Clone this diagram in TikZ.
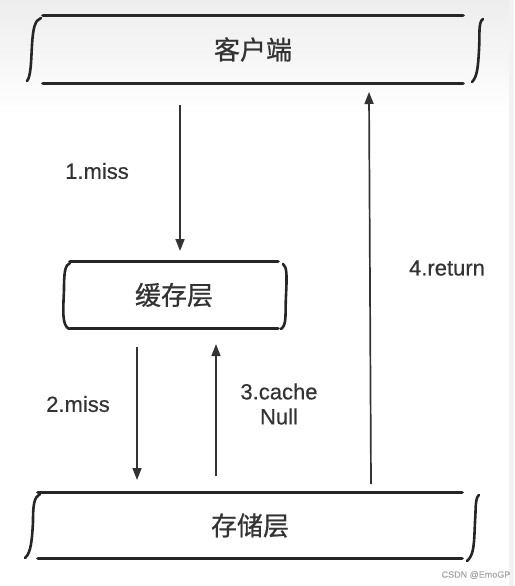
\documentclass[tikz,border=0pt]{standalone}
\usepackage{fontspec}
\setmainfont{Liberation Sans}[UprightFeatures={FakeBold=0.5}]
\newfontfamily\cjk{Noto Sans CJK SC}[UprightFeatures={FakeBold=0.8}]
\usetikzlibrary{arrows.meta}
\tikzset{
  layer/.style={inner sep=0pt, font=\cjk\fontsize{26}{30}\selectfont, text=black!80},
  edge/.style={line width=3.2pt, black!85, line cap=round},
  brace/.style={line width=2.6pt, black!85, line cap=round},
  flow/.style={-{Triangle[length=12pt,width=9pt]}, line width=1.7pt, black!80},
  lbl/.style={font=\fontsize{22}{25}\selectfont, text=black!80, align=center}
}
\begin{document}
\begin{tikzpicture}[x=1pt,y=-1pt]
\useasboundingbox (0,0) rectangle (514,586);
\shade[top color=gray!14, bottom color=white] (0,0) rectangle (514,115);
\fill[gray!10] (509,0) rectangle (514,586);

% layers
\node[layer, minimum width=420pt, minimum height=67pt] (client) at (253,49.5) {客户端};
\node[layer, minimum width=208pt, minimum height=66pt] (cache) at (174,295) {缓存层};
\node[layer, minimum width=424pt, minimum height=65pt] (store) at (250,525.5) {存储层};

\draw[edge] (client.north west) -- (client.north east);
\draw[edge] (client.south west) -- (client.south east);
\draw[edge] (cache.north west) -- (cache.north east);
\draw[edge] (cache.south west) -- (cache.south east);
\draw[edge] (store.north west) -- (store.north east);
\draw[edge] (store.south west) -- (store.south east);

% side brackets
\draw[brace] (41,18) .. controls (35,20) and (33,28) .. (32,45) .. controls (31,62) and (31,76) .. (27,81);
\draw[brace] (483,19) .. controls (478,22) and (480,35) .. (479,50) .. controls (478,68) and (477,77) .. (472,82);
\draw[brace] (70,263) .. controls (65,265) and (64,272) .. (64,290) .. controls (63,312) and (62,325) .. (69,329);
\draw[brace] (283,264) .. controls (287,267) and (287,275) .. (286,295) .. controls (285,315) and (287,325) .. (281,329);
\draw[brace] (40,494) .. controls (34,497) and (33,505) .. (33,522) .. controls (32,540) and (31,553) .. (25,558);
\draw[brace] (479,495) .. controls (475,498) and (476,508) .. (475,522) .. controls (474,545) and (474,555) .. (467,561);

% arrow ends
\coordinate (m1a) at (180,105);
\coordinate (m1b) at (180,251);
\coordinate (m2a) at (137,347);
\coordinate (m2b) at (137,480);
\coordinate (c3a) at (216,476);
\coordinate (c3b) at (216,344);
\coordinate (r4a) at (371,484);
\coordinate (r4b) at (369,92);

\draw[flow] (m1a) -- (m1b);
\draw[flow] (m2a) -- (m2b);
\draw[flow] (c3a) -- (c3b);
\draw[flow] (r4a) -- (r4b);

\node[lbl] (l1) at (97,171) {1.miss};
\node[lbl] (l2) at (78,404) {2.miss};
\node[lbl] (l3) at (279,404) {3.cache\\Null};
\node[lbl] (l4) at (447,268) {4.return};

\node[font=\fontsize{9}{10}\selectfont, text=gray!70] (mark) at (476,575) {CSDN @EmoGP};
\end{tikzpicture}
\end{document}
